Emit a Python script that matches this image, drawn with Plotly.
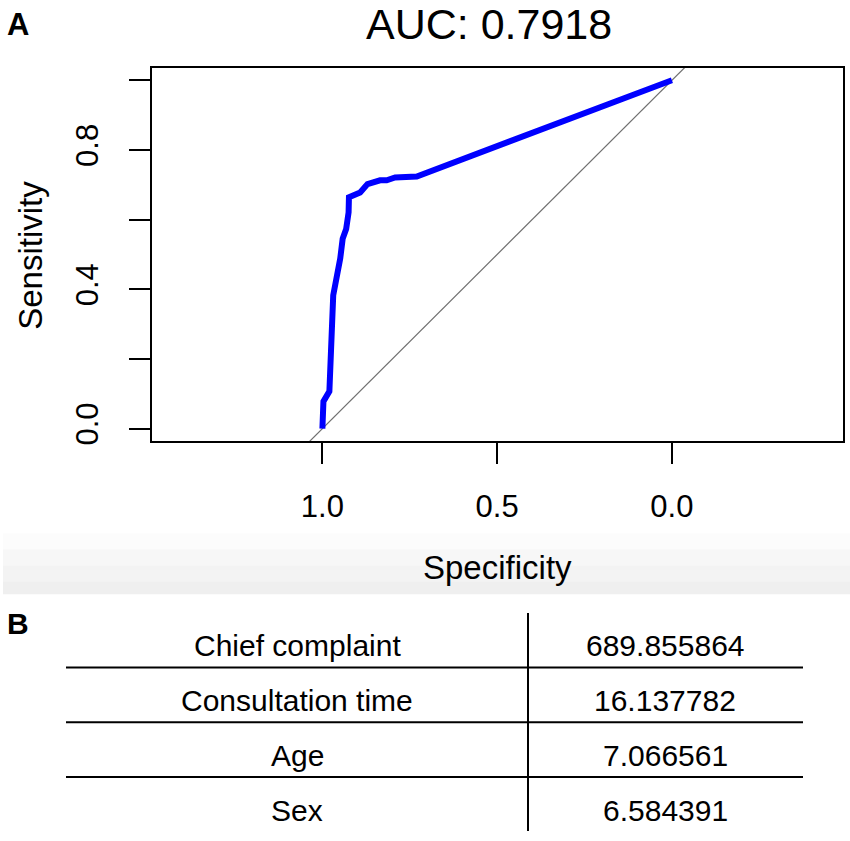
import plotly.graph_objects as go

W, H = 850, 841

# ---------------- data ----------------
auc_label = "AUC: 0.7918"
specificity = [1.0, 0.997, 0.98, 0.969, 0.949, 0.942, 0.932, 0.925, 0.924, 0.913,
               0.902, 0.892, 0.871, 0.835, 0.816, 0.792, 0.730, 0.472, 0.0]
sensitivity = [0.0, 0.078, 0.107, 0.383, 0.488, 0.545, 0.573, 0.621, 0.664, 0.669,
               0.678, 0.678, 0.702, 0.713, 0.713, 0.721, 0.724, 0.821, 1.0]
chance_x = [1.6, -0.6]
chance_y = [-0.6, 1.6]
x_ticks = [1.0, 0.5, 0.0]
x_tick_labels = ["1.0", "0.5", "0.0"]
y_ticks = [0.0, 0.2, 0.4, 0.6, 0.8, 1.0]
y_tick_labels = ["0.0", "", "0.4", "", "0.8", ""]

variables = ["Chief complaint", "Consultation time", "Age", "Sex"]
importance = ["689.855864", "16.137782", "7.066561", "6.584391"]

FONT = "Liberation Sans, Arial, Helvetica, sans-serif"


def px(x):
    return x / W


def py(y):
    return 1 - y / H


fig = go.Figure()
fig.add_trace(go.Scatter(x=chance_x, y=chance_y, mode="lines",
                         line=dict(color="#707070", width=1.2),
                         hoverinfo="skip", showlegend=False))
fig.add_trace(go.Scatter(x=specificity, y=sensitivity, mode="lines",
                         line=dict(color="#0000ff", width=6),
                         showlegend=False))

fig.update_layout(
    width=W, height=H,
    margin=dict(l=0, r=0, t=0, b=0),
    paper_bgcolor="white", plot_bgcolor="white",
    font=dict(family=FONT, color="black"),
    xaxis=dict(domain=[px(152), px(843)], range=[1.4875, -0.4895],
               showgrid=False, zeroline=False,
               showline=True, linecolor="black", linewidth=1.5, mirror=True,
               ticks="outside", ticklen=21, tickwidth=1.5, tickcolor="black",
               tickvals=x_ticks, ticktext=x_tick_labels,
               tickfont=dict(size=31, family=FONT), ticklabelstandoff=16),
    yaxis=dict(domain=[py(443.5), py(68)], range=[-0.0366, 1.0363],
               showgrid=False, zeroline=False,
               showline=True, linecolor="black", linewidth=1.5, mirror=True,
               ticks="outside", ticklen=21, tickwidth=1.5, tickcolor="black",
               tickvals=y_ticks, ticktext=y_tick_labels, tickangle=-90,
               tickfont=dict(size=31, family=FONT), ticklabelstandoff=19),
)

shapes = []
# light gray gradient band at the bottom of panel A
bands = [(536, 552, "#fcfcfc"), (552, 568, "#f7f7f7"), (568, 584, "#f3f3f3"),
         (584, 597, "#efefef")]
for y0, y1, c in bands:
    shapes.append(dict(type="rect", xref="paper", yref="paper",
                       x0=px(3), x1=1, y0=py(y1), y1=py(y0),
                       fillcolor=c, line=dict(width=0), layer="below"))

# table lines
for yl in [670.7, 725.7, 780.7]:
    shapes.append(dict(type="line", xref="paper", yref="paper",
                       x0=px(66), x1=px(803), y0=py(yl), y1=py(yl),
                       line=dict(color="black", width=2)))
shapes.append(dict(type="line", xref="paper", yref="paper",
                   x0=px(528), x1=px(528), y0=py(616), y1=py(835),
                   line=dict(color="black", width=2)))
fig.update_layout(shapes=shapes)

ann = []
ann.append(dict(text=auc_label, x=px(489), y=py(24), xref="paper", yref="paper",
                showarrow=False, font=dict(size=43, family=FONT),
                xanchor="center", yanchor="middle"))
ann.append(dict(text="<b>A</b>", x=px(5), y=py(25), xref="paper", yref="paper",
                showarrow=False, font=dict(size=31, family=FONT),
                xanchor="left", yanchor="middle"))
ann.append(dict(text="<b>B</b>", x=px(5), y=py(626), xref="paper", yref="paper",
                showarrow=False, font=dict(size=30, family=FONT),
                xanchor="left", yanchor="middle"))
ann.append(dict(text="Sensitivity", x=px(31), y=py(257), xref="paper", yref="paper",
                showarrow=False, font=dict(size=33, family=FONT), textangle=-90,
                xanchor="center", yanchor="middle"))
ann.append(dict(text="Specificity", x=px(497), y=py(570), xref="paper", yref="paper",
                showarrow=False, font=dict(size=33, family=FONT),
                xanchor="center", yanchor="middle"))

row_centers = [649, 704, 759, 814]
for name, val, yc in zip(variables, importance, row_centers):
    ann.append(dict(text=name, x=px(297), y=py(yc), xref="paper", yref="paper",
                    showarrow=False, font=dict(size=30, family=FONT),
                    xanchor="center", yanchor="middle"))
    ann.append(dict(text=val, x=px(665), y=py(yc), xref="paper", yref="paper",
                    showarrow=False, font=dict(size=30, family=FONT),
                    xanchor="center", yanchor="middle"))
fig.update_layout(annotations=ann)

fig.write_html("out.html",
               config={"displayModeBar": False},
               post_script="document.body.style.margin='0px';"
                           "document.body.style.padding='0px';"
                           "document.body.style.overflow='hidden';")
